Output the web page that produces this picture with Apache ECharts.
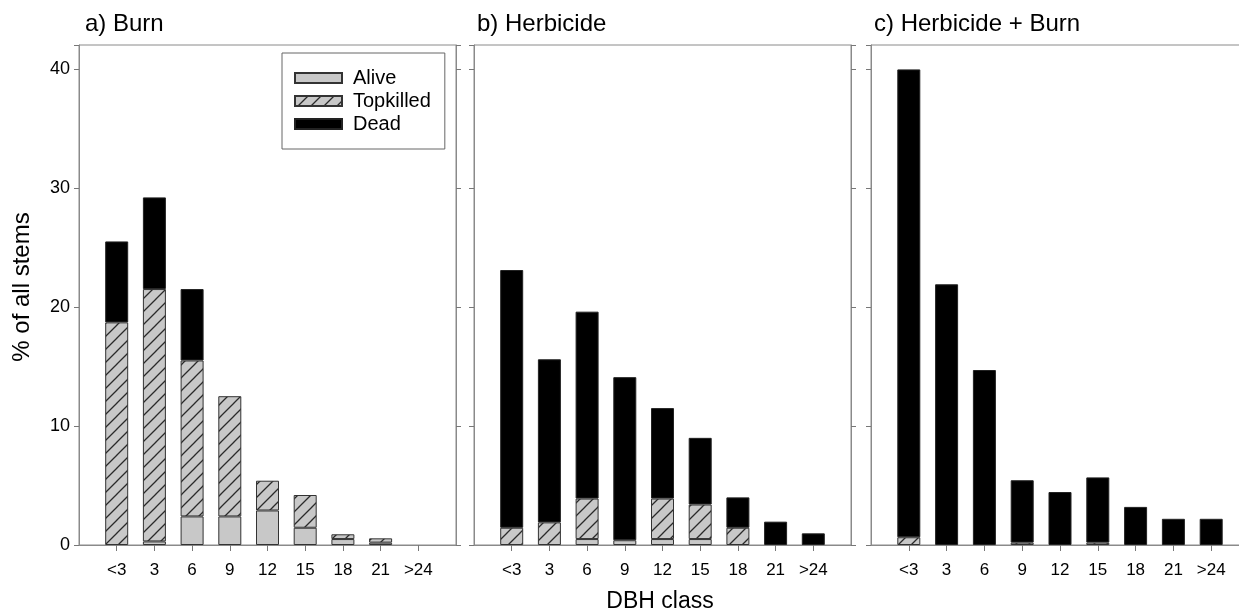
<!DOCTYPE html>
<html>
<head>
<meta charset="utf-8">
<script src="https://cdn.jsdelivr.net/npm/echarts@6/dist/echarts.min.js"></script>
<style>
html,body{margin:0;padding:0;background:#fff;}
#chart{width:1239px;height:613px;}
</style>
</head>
<body>
<div id="chart"></div>
<script>
// ---- data ----
const categories = ['<3', '3', '6', '9', '12', '15', '18', '21', '>24'];
const panelTitles = ['a) Burn', 'b) Herbicide', 'c) Herbicide + Burn'];
const seriesNames = ['Alive', 'Topkilled', 'Dead'];
const yTicks = [0, 10, 20, 30, 40];

const burnAlive     = [0, 0.3, 2.4, 2.4, 2.9, 1.45, 0.5, 0.2, 0];
const burnTopkilled = [18.7, 21.2, 13.1, 10.1, 2.5, 2.75, 0.4, 0.36, 0];
const burnDead      = [6.8, 7.7, 6.0, 0, 0, 0, 0, 0, 0];

const herbAlive     = [0, 0, 0.5, 0.4, 0.5, 0.5, 0, 0, 0];
const herbTopkilled = [1.45, 1.9, 3.4, 0, 3.4, 2.9, 1.45, 0, 0];
const herbDead      = [21.65, 13.7, 15.7, 13.7, 7.6, 5.6, 2.55, 1.96, 0.98];

const hbAlive       = [0, 0, 0, 0, 0, 0, 0, 0, 0];
const hbTopkilled   = [0.65, 0, 0, 0.2, 0, 0.2, 0, 0, 0];
const hbDead        = [39.3, 21.9, 14.7, 5.24, 4.45, 5.48, 3.2, 2.2, 2.2];

const panels = [
  [burnAlive, burnTopkilled, burnDead],
  [herbAlive, herbTopkilled, herbDead],
  [hbAlive, hbTopkilled, hbDead]
];

// ---- styling ----
const FONT = 'Liberation Sans, Arial, Helvetica, sans-serif';
const gridLefts = [79, 474, 871];
const gridWidths = [377, 377, 378];
const titleLefts = [85, 477, 874];

function hatch() {
  const s = 13;
  const c = document.createElement('canvas');
  c.width = s; c.height = s;
  const ctx = c.getContext('2d');
  ctx.fillStyle = '#c8c8c8';
  ctx.fillRect(0, 0, s, s);
  ctx.strokeStyle = '#2a2a2a';
  ctx.lineWidth = 1.3;
  ctx.beginPath();
  ctx.moveTo(-1, s + 1); ctx.lineTo(s + 1, -1);
  ctx.moveTo(-3, 3); ctx.lineTo(3, -3);
  ctx.moveTo(s - 3, s + 3); ctx.lineTo(s + 3, s - 3);
  ctx.stroke();
  return c;
}
const hatchCanvas = hatch();

const styles = [
  { color: '#c8c8c8', borderColor: '#333', borderWidth: 1 },
  { color: { image: hatchCanvas, repeat: 'repeat' }, borderColor: '#333', borderWidth: 1 },
  { color: '#000', borderColor: '#222', borderWidth: 1 }
];

const padCats = [''].concat(categories, ['']);
const pad = arr => ['-'].concat(arr.map(v => (v === 0 ? '-' : v)), ['-']);

const grids = [], xAxes = [], yAxes = [], series = [], titles = [];
for (let p = 0; p < 3; p++) {
  grids.push({
    left: gridLefts[p], width: gridWidths[p], top: 45, height: 500,
    outerBoundsMode: 'none', containLabel: false,
    show: true, borderColor: '#8a8a8a', borderWidth: 1, backgroundColor: 'transparent'
  });
  titles.push({
    text: panelTitles[p], left: titleLefts[p], top: 12, padding: 0,
    textStyle: { fontFamily: FONT, fontSize: 24, fontWeight: 'normal', color: '#000' }
  });
  xAxes.push({
    gridIndex: p, type: 'category', data: padCats, boundaryGap: false,
    axisLine: { lineStyle: { color: '#8a8a8a', width: 1 } },
    axisTick: { length: 6, interval: (i, v) => v !== '', lineStyle: { color: '#777' } },
    axisLabel: { interval: 0, margin: 17, fontSize: 17, color: '#000', fontFamily: FONT },
    splitLine: { show: false }
  });
  const yBase = {
    gridIndex: p, type: 'value', min: 0, max: 42, interval: 10,
    axisLine: { show: true, lineStyle: { color: '#8a8a8a', width: 1 } },
    axisTick: { show: true, length: 5, lineStyle: { color: '#777' } },
    splitLine: { show: false }
  };
  yAxes.push(Object.assign({}, yBase, {
    position: 'left',
    axisLabel: {
      show: p === 0, margin: 9, fontSize: 18, color: '#000', fontFamily: FONT,
      formatter: v => (yTicks.indexOf(v) >= 0 ? String(v) : '')
    }
  }));
  yAxes.push(Object.assign({}, yBase, {
    position: 'right', axisLabel: { show: false }
  }));
  for (let s = 0; s < 3; s++) {
    series.push({
      type: 'bar', name: seriesNames[s],
      xAxisIndex: p, yAxisIndex: p * 2, stack: 'st' + p,
      barWidth: 23, data: pad(panels[p][s]),
      itemStyle: styles[s], emphasis: { disabled: true }
    });
  }
}

const chart = echarts.init(document.getElementById('chart'), null, { renderer: 'canvas' });
chart.setOption({
  animation: false,
  backgroundColor: '#fff',
  title: titles,
  grid: grids,
  xAxis: xAxes,
  yAxis: yAxes,
  series: series,
  legend: {
    data: seriesNames, orient: 'vertical', left: 282, top: 53,
    padding: [15, 14, 15, 12], itemGap: 3, itemWidth: 47, itemHeight: 10,
    borderColor: '#666', borderWidth: 1, icon: 'rect', selectedMode: false,
    textStyle: { fontFamily: FONT, fontSize: 20, color: '#000', lineHeight: 20, padding: [0, 0, 0, 6] }
  },
  graphic: [
    {
      type: 'text', x: 22, y: 287, rotation: Math.PI / 2,
      style: { text: '% of all stems', font: '24px ' + FONT, fill: '#000', align: 'center', verticalAlign: 'middle' }
    },
    {
      type: 'text', x: 660, y: 602,
      style: { text: 'DBH class', font: '23px ' + FONT, fill: '#000', align: 'center', verticalAlign: 'middle' }
    }
  ]
});
</script>
</body>
</html>
